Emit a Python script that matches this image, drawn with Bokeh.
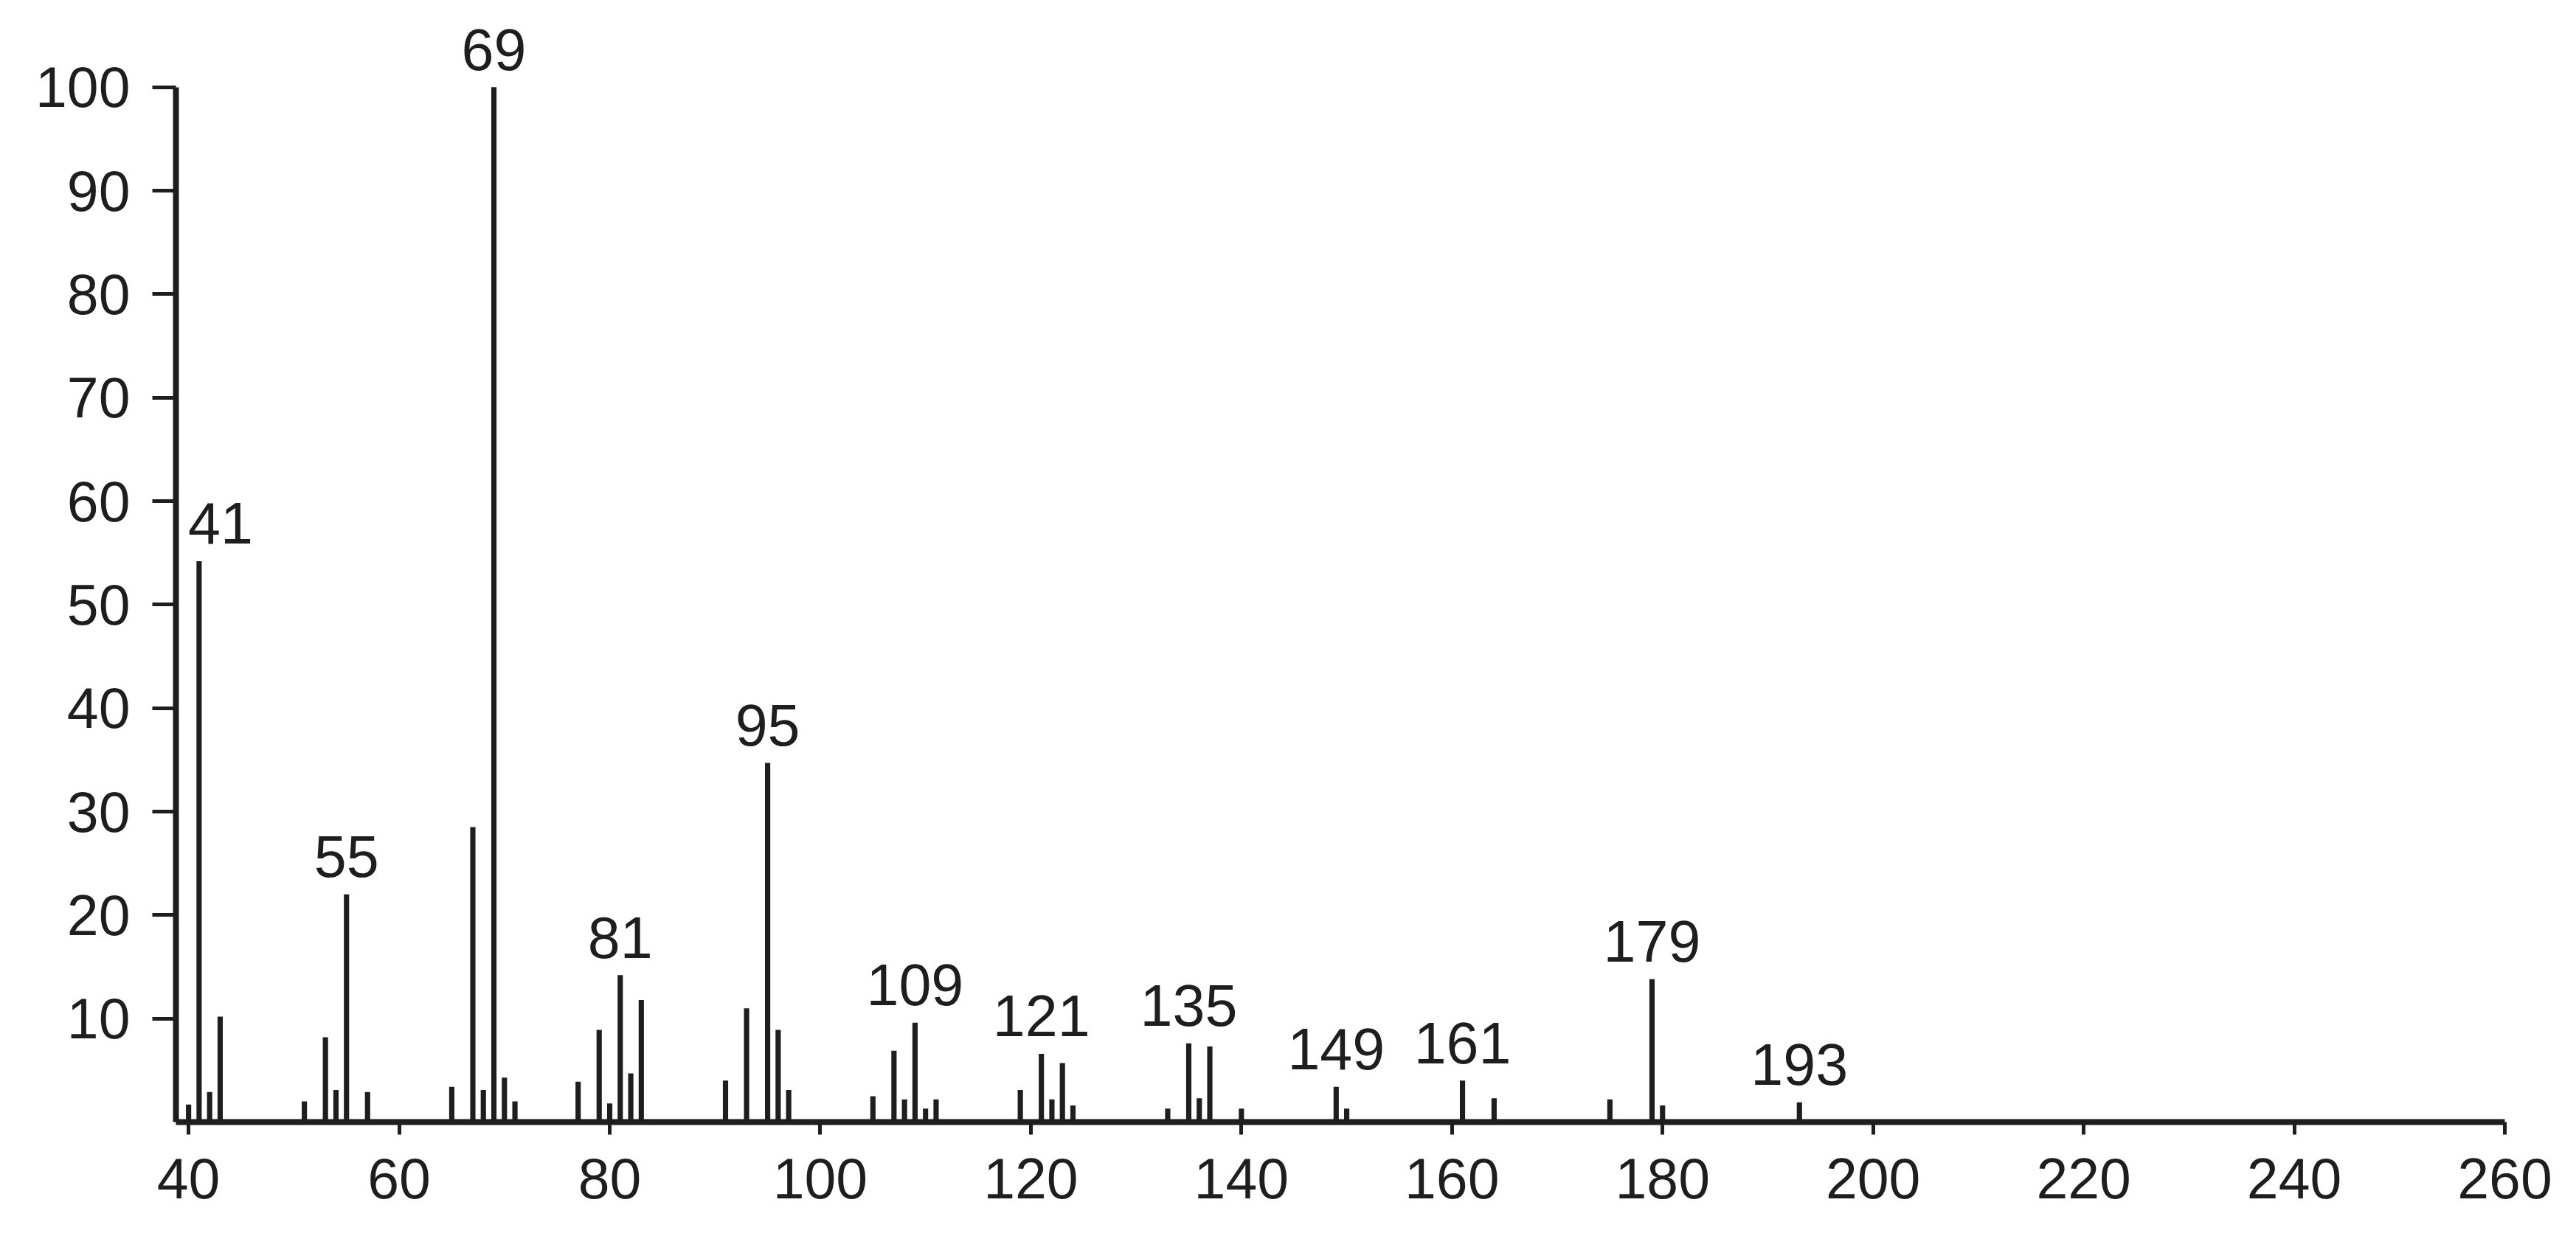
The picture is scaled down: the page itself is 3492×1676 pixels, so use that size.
from bokeh.plotting import figure
from bokeh.models import Range1d, ColumnDataSource, FixedTicker
from bokeh.core.properties import value
from bokeh.embed import file_html
from bokeh.resources import INLINE

# m/z values and relative intensities (%)
mz = [40, 41, 42, 43, 51, 53, 54, 55, 57, 65, 67, 68, 69, 70, 71, 77, 79, 80, 81, 82, 83,
      91, 93, 95, 96, 97, 105, 107, 108, 109, 110, 111, 119, 121, 122, 123, 124,
      133, 135, 136, 137, 140, 149, 150, 161, 164, 175, 179, 180, 193]
intensity = [1.7, 54.2, 2.9, 10.2, 2.0, 8.2, 3.1, 22.0, 2.9, 3.4, 28.5, 3.1, 100.0, 4.3, 2.0,
             3.9, 8.9, 1.8, 14.2, 4.7, 11.8, 4.0, 11.0, 34.7, 8.9, 3.1, 2.5, 6.9, 2.2, 9.6,
             1.3, 2.2, 3.1, 6.6, 2.2, 5.7, 1.6, 1.3, 7.6, 2.3, 7.3, 1.3, 3.4, 1.3, 4.0, 2.3,
             2.2, 13.8, 1.6, 1.9]
labeled_peaks = [41, 55, 69, 81, 95, 109, 121, 135, 149, 161, 179, 193]
x_ticks = [40, 60, 80, 100, 120, 140, 160, 180, 200, 220, 240, 260]
y_ticks = [10, 20, 30, 40, 50, 60, 70, 80, 90, 100]

INK = "#1e1e1e"
FONT = "Liberation Sans"
FS = "77px"

p = figure(width=3476, height=1664, output_backend="svg", toolbar_location=None,
           x_range=Range1d(38.8, 260), y_range=Range1d(0, 107.4),
           min_border_left=238, min_border_right=81, min_border_top=14, min_border_bottom=143)
p.background_fill_color = "white"
p.border_fill_color = "white"
p.outline_line_color = None
p.xgrid.visible = False
p.ygrid.visible = False

src = ColumnDataSource(dict(mz=mz, inten=intensity))
p.vbar(x="mz", top="inten", bottom=0, width=0.5, source=src,
       fill_color=INK, line_color=None)

lab_int = [intensity[mz.index(m)] for m in labeled_peaks]
lab_src = ColumnDataSource(dict(x=labeled_peaks, y=lab_int,
                                t=[str(m) for m in labeled_peaks],
                                dx=[29 if m == 41 else 0 for m in labeled_peaks]))
p.text(x="x", y="y", text="t", source=lab_src, x_offset="dx", y_offset=-51,
       text_align="center", text_baseline="alphabetic",
       text_font=value(FONT), text_font_size="79px", text_color=INK)

xa = p.xaxis[0]
xa.ticker = FixedTicker(ticks=x_ticks)
xa.axis_line_width = 8
xa.axis_line_color = INK
xa.major_tick_line_width = 5
xa.major_tick_line_color = INK
xa.major_tick_in = 0
xa.major_tick_out = 17
xa.minor_tick_line_color = None
xa.major_label_standoff = 32
xa.major_label_text_font = FONT
xa.major_label_text_font_size = FS
xa.major_label_text_color = INK

ya = p.yaxis[0]
ya.ticker = FixedTicker(ticks=y_ticks)
ya.bounds = (0, 100)
ya.axis_line_width = 8
ya.axis_line_color = INK
ya.major_tick_line_width = 5
ya.major_tick_line_color = INK
ya.major_tick_in = 0
ya.major_tick_out = 32
ya.minor_tick_line_color = None
ya.major_label_standoff = 30
ya.major_label_text_font = FONT
ya.major_label_text_font_size = FS
ya.major_label_text_color = INK

open("out.html", "w").write(file_html(p, INLINE))
